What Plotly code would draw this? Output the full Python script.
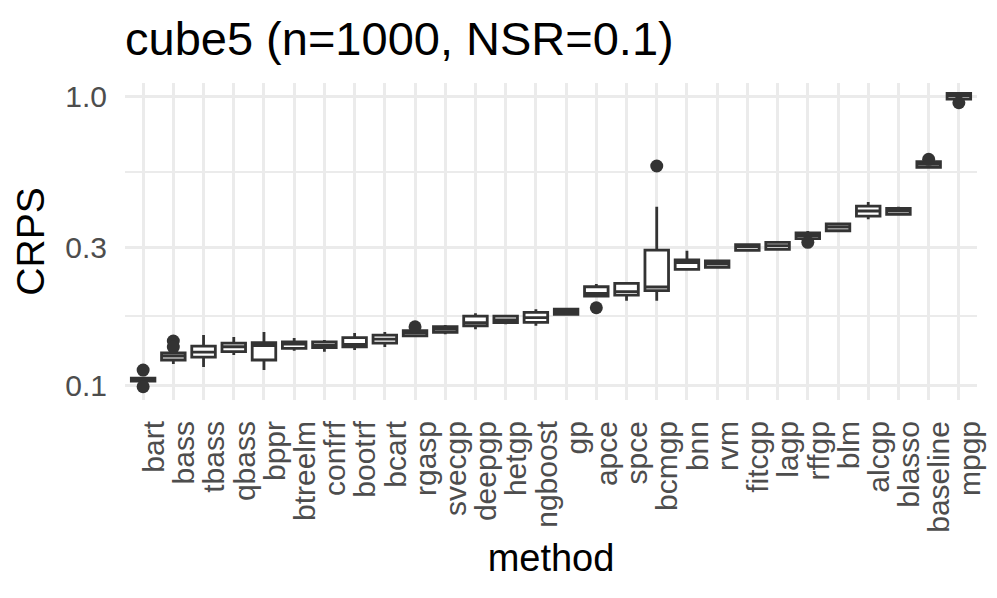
import numpy as np
import plotly.graph_objects as go

# CRPS per method, cube5 (n=1000, NSR=0.1) -- box summary
methods = ["bart", "bass", "tbass", "qbass", "bppr", "btreelm", "confrf", "bootrf",
           "bcart", "rgasp", "svecgp", "deepgp", "hetgp", "ngboost", "gp", "apce",
           "spce", "bcmgp", "bnn", "rvm", "fitcgp", "lagp", "rffgp", "blm", "alcgp",
           "blasso", "baseline", "mpgp"]
q1 = [0.1036, 0.1225, 0.1254, 0.1310, 0.1225, 0.1344, 0.1351, 0.1361, 0.1400, 0.1486,
      0.1527, 0.1609, 0.1648, 0.1653, 0.1762, 0.2038, 0.2054, 0.2126, 0.2520, 0.2560,
      0.2931, 0.2954, 0.3215, 0.3425, 0.3850, 0.3903, 0.5672, 0.9764]
median = [0.1053, 0.1264, 0.1305, 0.1361, 0.1373, 0.1391, 0.1380, 0.1388, 0.1447, 0.1522,
          0.1564, 0.1648, 0.1684, 0.1715, 0.1798, 0.2082, 0.2109, 0.2189, 0.2657, 0.2629,
          0.3016, 0.3040, 0.3292, 0.3527, 0.4007, 0.4007, 0.5809, 1.0024]
q3 = [0.1061, 0.1295, 0.1369, 0.1402, 0.1405, 0.1416, 0.1416, 0.1463, 0.1494, 0.1546,
      0.1596, 0.1738, 0.1738, 0.1789, 0.1837, 0.2194, 0.2254, 0.2938, 0.2714, 0.2692,
      0.3065, 0.3124, 0.3364, 0.3613, 0.4169, 0.4094, 0.5931, 1.0217]
lower = [0.1028, 0.1187, 0.1158, 0.1275, 0.1131, 0.1319, 0.1309, 0.1326, 0.1358, 0.1471,
         0.1503, 0.1563, 0.1627, 0.1609, 0.1752, 0.2028, 0.1963, 0.1963, 0.2492, 0.2546,
         0.2899, 0.2950, 0.3198, 0.3418, 0.3751, 0.3895, 0.5640, 0.9725]
upper = [0.1070, 0.1316, 0.1494, 0.1471, 0.1530, 0.1459, 0.1436, 0.1518, 0.1530, 0.1567,
         0.1618, 0.1776, 0.1752, 0.1833, 0.1846, 0.2242, 0.2260, 0.4146, 0.2922, 0.2714,
         0.3075, 0.3139, 0.3418, 0.3650, 0.4305, 0.4146, 0.5960, 1.0240]

out_method = ["bart", "bart", "bass", "bass", "rgasp", "apce", "bcmgp", "rffgp", "baseline", "mpgp"]
out_crps = [0.1131, 0.0991, 0.1424, 0.1358, 0.1596, 0.1856, 0.5731, 0.3124, 0.6044, 0.9481]

y_breaks = [0.1, 0.3, 1.0]
y_labels = ["0.1", "0.3", "1.0"]

dark = "#333333"
grid = "#EBEBEB"
font = "Liberation Sans, Arial, sans-serif"

fig = go.Figure()
fig.add_trace(go.Box(
    x=methods, q1=q1, median=median, q3=q3,
    lowerfence=lower, upperfence=upper,
    boxpoints=False, whiskerwidth=0, width=0.78,
    fillcolor="white", line=dict(color=dark, width=2.8),
    hoverinfo="skip",
))
fig.add_trace(go.Scatter(
    x=out_method, y=out_crps, mode="markers",
    marker=dict(color=dark, size=13),
    hoverinfo="skip",
))

# ggplot-style minor breaks halfway between majors (in log space)
lb = np.log10(y_breaks)
minor_vals = list(10 ** ((lb[:-1] + lb[1:]) / 2))

fig.update_layout(
    width=997, height=598,
    margin=dict(l=125, r=20, t=83, b=198),
    plot_bgcolor="white", paper_bgcolor="white",
    showlegend=False,
    font=dict(family=font, color="black"),
    title=dict(text="cube5 (n=1000, NSR=0.1)", x=125 / 997, xanchor="left",
               y=1 - 39 / 598, yanchor="middle", font=dict(size=47, color="black")),
)
fig.update_xaxes(
    type="category", categoryorder="array", categoryarray=methods,
    range=[-0.6, len(methods) - 0.4],
    tickmode="array", tickvals=methods, ticktext=methods,
    showgrid=True, gridcolor=grid, gridwidth=2.8,
    zeroline=False, showline=False, ticks="",
    tickangle=-90, tickfont=dict(size=30, color="#4D4D4D"),
    ticklabelshift=11, ticklabelstandoff=14,
    title=dict(text="method", font=dict(size=38, color="black"), standoff=12),
    automargin=False,
)
fig.update_yaxes(
    type="log", range=[-1.05, 0.045],
    tickvals=y_breaks, ticktext=y_labels,
    showgrid=True, gridcolor=grid, gridwidth=2.8,
    minor=dict(tickvals=minor_vals, showgrid=True, gridcolor=grid, gridwidth=2),
    zeroline=False, showline=False, ticks="",
    tickfont=dict(size=30, color="#4D4D4D"), ticklabelstandoff=17,
    title=dict(text="CRPS", font=dict(size=39, color="black"), standoff=8),
    automargin=False,
)

fig.write_html("out.html", config={"displayModeBar": False},
               post_script="document.body.style.margin='0';")
